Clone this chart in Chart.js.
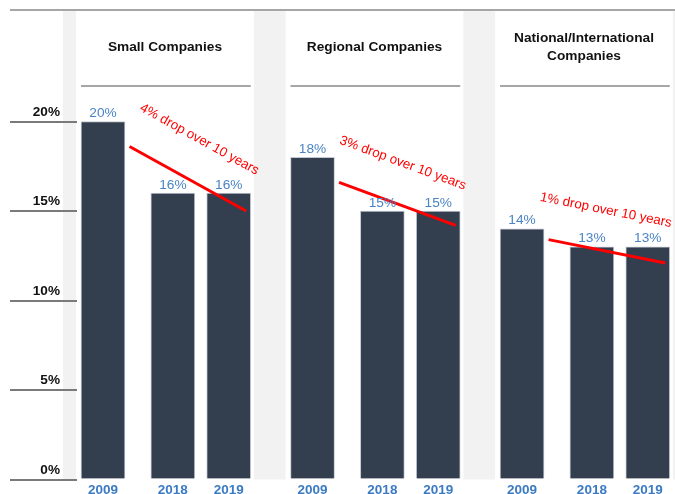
<!DOCTYPE html>
<html><head><meta charset="utf-8">
<script src="https://cdn.jsdelivr.net/npm/chart.js@4/dist/chart.umd.min.js"></script>
<style>html,body{margin:0;padding:0;background:#fff;}#wrap{width:675px;height:494px;position:relative;}</style>
</head><body><div id="wrap"><canvas id="c"></canvas></div>
<script>
// ---- data ----
const groups = [['Small Companies'], ['Regional Companies'], ['National/International', 'Companies']];
const years = ['2009', '2018', '2019'];
const small = [20, 16, 16];
const regional = [18, 15, 15];
const national = [14, 13, 13];
const trendStart = [18.6, 16.6, 13.4];
const trendEnd = [15.0, 14.2, 12.1];
const trendLabels = ['4% drop over 10 years', '3% drop over 10 years', '1% drop over 10 years'];
const yTicks = [0, 5, 10, 15, 20];

// ---- layout (slot units on the x scale) ----
const GROUP_SPAN = 15;
const YEAR_OFFSET = [0, 5, 9];
const TREND_X = [1.9, 10.25];
const FONT = "'Liberation Sans', Arial, sans-serif";

const seriesByGroup = [small, regional, national];
const barPoints = [];
const tickPositions = [];
seriesByGroup.forEach((vals, g) => {
  vals.forEach((v, i) => {
    const x = g * GROUP_SPAN + YEAR_OFFSET[i];
    barPoints.push({x: x, y: v});
    tickPositions.push(x);
  });
});
const trendSets = trendStart.map((s, g) => ({
  type: 'line',
  data: [{x: g * GROUP_SPAN + TREND_X[0], y: s}, {x: g * GROUP_SPAN + TREND_X[1], y: trendEnd[g]}],
  borderColor: '#ff0000', borderWidth: 3, pointRadius: 0, fill: false, clip: false, order: 0
}));

const decor = {
  id: 'decor',
  beforeDraw(chart) {
    const ctx = chart.ctx, xs = chart.scales.x, ys = chart.scales.y;
    const px = v => xs.getPixelForValue(v);
    const bottom = ys.getPixelForValue(0);
    ctx.save();
    ctx.fillStyle = '#f2f2f2';
    for (let g = 0; g <= 3; g++) {
      let x1 = px(g * GROUP_SPAN - 4.2), x2 = px(g * GROUP_SPAN - 1.93);
      if (g === 0) x1 = 63;
      ctx.fillRect(x1, 11, x2 - x1, bottom - 11);
    }
    // top rule
    ctx.strokeStyle = '#a6a6a6'; ctx.lineWidth = 2;
    ctx.beginPath(); ctx.moveTo(10, 10); ctx.lineTo(675, 10); ctx.stroke();
    // headers
    ctx.fillStyle = '#111'; ctx.font = 'bold 13.7px ' + FONT;
    ctx.textAlign = 'center'; ctx.textBaseline = 'middle';
    groups.forEach((lines, g) => {
      const cx = (px(g * GROUP_SPAN - 1.93) + px((g + 1) * GROUP_SPAN - 4.2)) / 2;
      const y0 = lines.length === 1 ? 47 : 38.5;
      lines.forEach((t, k) => ctx.fillText(t, cx, y0 + k * 17.7));
      ctx.strokeStyle = '#a6a6a6'; ctx.lineWidth = 2;
      ctx.beginPath();
      ctx.moveTo(px(g * GROUP_SPAN) - 22, 86);
      ctx.lineTo(px(g * GROUP_SPAN + YEAR_OFFSET[2]) + 22, 86);
      ctx.stroke();
    });
    ctx.restore();
  },
  afterDatasetsDraw(chart) {
    const ctx = chart.ctx;
    ctx.save();
    // value labels
    const meta = chart.getDatasetMeta(0);
    ctx.font = '13.7px ' + FONT; ctx.fillStyle = '#4a84c6';
    ctx.textAlign = 'center'; ctx.textBaseline = 'alphabetic';
    meta.data.forEach((el, i) => {
      ctx.fillText(barPoints[i].y + '%', el.x, el.y - 4.5);
    });
    // trend labels
    ctx.font = '13.3px ' + FONT; ctx.fillStyle = '#ff0000';
    ctx.textBaseline = 'middle';
    trendLabels.forEach((t, g) => {
      const pts = chart.getDatasetMeta(g + 1).data;
      const a = Math.atan2(pts[1].y - pts[0].y, pts[1].x - pts[0].x);
      const mx = (pts[0].x + pts[1].x) / 2, my = (pts[0].y + pts[1].y) / 2;
      const dx = Math.cos(a), dy = Math.sin(a);
      const nx = dy, ny = -dx;
      const cx = mx + nx * 40 - dx * 9, cy = my + ny * 40 - dy * 9;
      ctx.save(); ctx.translate(cx, cy); ctx.rotate(a);
      ctx.fillText(t, 0, 0); ctx.restore();
    });
    ctx.restore();
  }
};

new Chart(document.getElementById('c'), {
  type: 'bar',
  data: {
    datasets: [{
      type: 'bar', data: barPoints,
      backgroundColor: '#333e4f', borderColor: '#c3c8d0', borderWidth: 1,
      barThickness: 44, order: 1, clip: false
    }].concat(trendSets)
  },
  options: {
    responsive: true, maintainAspectRatio: false, animation: false,
    layout: {padding: {top: 121.5, left: 10, right: 0, bottom: 0}},
    plugins: {legend: {display: false}, tooltip: {enabled: false}},
    scales: {
      x: {
        type: 'linear', min: -1.862, max: 40.95, offset: false,
        grid: {display: false, drawTicks: false}, border: {display: false},
        afterBuildTicks: s => { s.ticks = tickPositions.map(v => ({value: v})); },
        afterFit: s => { s.height = 14.5; },
        ticks: {
          autoSkip: false, maxRotation: 0, padding: 3,
          color: '#3b7bc4', font: {family: FONT, size: 13.5, weight: 'bold'},
          callback: (v, i) => years[i % years.length]
        }
      },
      y: {
        type: 'linear', position: 'left', min: 0, max: 20,
        afterBuildTicks: s => { s.ticks = yTicks.map(v => ({value: v})); },
        afterFit: s => { s.width = 67; },
        grid: {drawOnChartArea: false, drawTicks: true, tickLength: 67, color: '#7a7a7a', lineWidth: 2},
        border: {display: false},
        ticks: {
          padding: -50, labelOffset: -9.5, color: '#111',
          font: {family: FONT, size: 13.6, weight: 'bold'},
          callback: v => v + '%'
        }
      }
    }
  },
  plugins: [decor]
});
</script>
</body></html>
